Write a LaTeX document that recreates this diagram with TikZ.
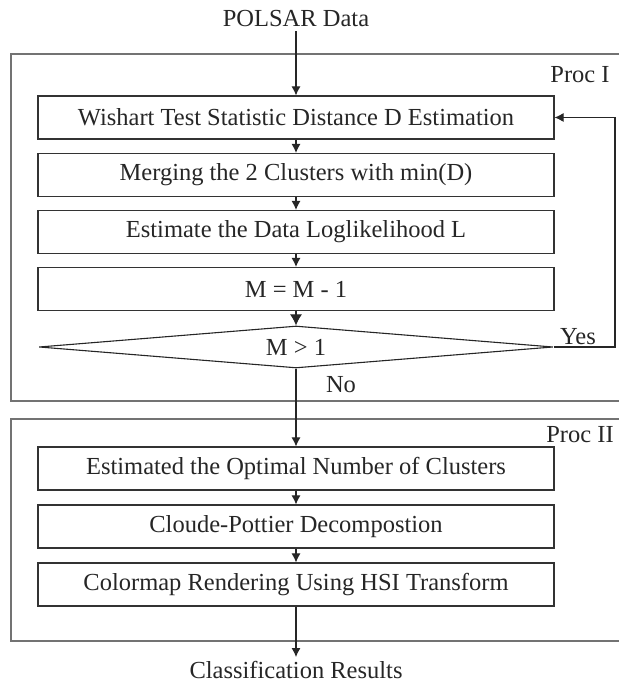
\documentclass[tikz,border=0pt]{standalone}
\usepackage{fontspec}
\setmainfont{Liberation Serif}
\usetikzlibrary{arrows.meta,shapes.geometric}
\begin{document}
\begin{tikzpicture}[x=1pt,y=1pt,
  txt/.style={font=\fontsize{24.5}{28}\selectfont, text=black!85, inner sep=0pt},
  stepbox/.style={draw=black!80, line width=1.1pt, minimum width=516pt, minimum height=43pt, inner sep=0pt, font=\fontsize{24.5}{28}\selectfont, text=black!85},
  decide/.style={draw=black!85, line width=1.1pt, shape=diamond, aspect=12, minimum width=514pt, minimum height=42pt, inner sep=0pt, font=\fontsize{24.5}{28}\selectfont, text=black!85},
  frame/.style={draw=black!55, line width=1.6pt},
  arr/.style={draw=black!85, line width=1.1pt, -{Latex[length=9pt,width=9pt]}},
  bigarr/.style={draw=black!85, line width=1.1pt, -{Latex[length=11pt,width=12pt]}}]
\useasboundingbox (0,0) rectangle (618,684);
% frames
\draw[frame] (619,630) -- (11,630) -- (11,283) -- (619,283);
\draw[frame] (619,265) -- (11,265) -- (11,43) -- (619,43);
% labels
\node[txt] (polsar) at (296,665) {POLSAR Data};
\node[txt] (proc1) at (580,609) {Proc I};
\node[txt] (proc2) at (580,249) {Proc II};
% boxes
\node[stepbox] (b1) at (296,566.5) {Wishart Test Statistic Distance D Estimation};
\node[stepbox] (b2) at (296,509) {Merging the 2 Clusters with min(D)};
\node[stepbox] (b3) at (296,452) {Estimate the Data Loglikelihood L};
\node[stepbox] (b4) at (296,395) {M = M - 1};
\node[decide] (d) at (296,337) {M > 1};
\node[stepbox] (b5) at (296,215.5) {Estimated the Optimal Number of Clusters};
\node[stepbox] (b6) at (296,157.5) {Cloude-Pottier Decompostion};
\node[stepbox] (b7) at (296,99.5) {Colormap Rendering Using HSI Transform};
\node[txt] (res) at (296,14) {Classification Results};
\node[txt] (yes) at (578,347) {Yes};
\node[txt] (no) at (341,299) {No};
\coordinate (fb) at (615,337);
% connectors
\draw[arr] (polsar.south) ++(0,-4) -- (b1.north);
\draw[arr] (b1) -- (b2);
\draw[arr] (b2) -- (b3);
\draw[arr] (b3) -- (b4);
\draw[bigarr] (b4) -- (d);
\draw[arr] (d.east) -- (fb) |- (b1.east);
\draw[arr] (d.south) -- (b5.north);
\draw[arr] (b5) -- (b6);
\draw[arr] (b6) -- (b7);
\draw[arr] (b7.south) -- ([yshift=4pt]res.north);
\end{tikzpicture}
\end{document}
